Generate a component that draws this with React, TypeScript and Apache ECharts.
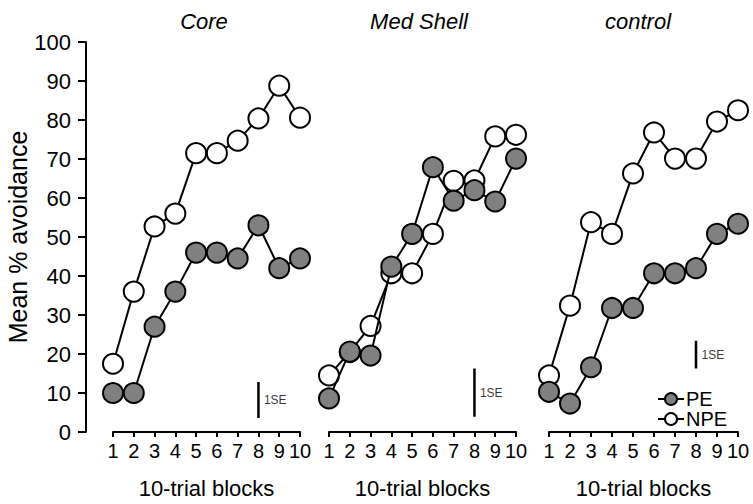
import React, { useEffect, useRef } from "react";
import * as echarts from "echarts";

const blocks = [1, 2, 3, 4, 5, 6, 7, 8, 9, 10];
const panelTitles = ["Core", "Med Shell", "control"];
const corePE = [10, 10, 27, 36, 46, 46, 44.5, 53, 42, 44.5];
const coreNPE = [17.5, 36, 52.7, 56, 71.5, 71.5, 74.7, 80.4, 88.8, 80.6];
const shellPE = [8.6, 20.6, 19.6, 42.4, 50.8, 67.9, 59.3, 62, 59.1, 70.1];
const shellNPE = [14.5, 20.5, 27.2, 40.7, 40.7, 50.8, 64.4, 64.5, 75.8, 76.2];
const controlPE = [10.3, 7.3, 16.6, 31.8, 31.8, 40.7, 40.7, 42, 50.8, 53.4];
const controlNPE = [14.5, 32.4, 53.8, 50.8, 66.3, 76.8, 70.1, 70.1, 79.6, 82.5];
const seBlock = [8, 8, 8];
const seLow = [3.6, 3.9, 16.3];
const seHigh = [12.8, 16.3, 23.4];
const yTicks = [0, 100, 10];

const FONT = "'Liberation Sans', Arial, Helvetica, sans-serif";

export default function App() {
  const ref = useRef<HTMLDivElement>(null);
  useEffect(() => {
    if (!ref.current) return;
    const chart = echarts.init(ref.current, null, { renderer: "svg" });
    const peSets = [corePE, shellPE, controlPE];
    const npeSets = [coreNPE, shellNPE, controlNPE];
    const grids = [
      { left: 113, width: 187, top: 42, height: 395 },
      { left: 329, width: 187, top: 42, height: 395 },
      { left: 549, width: 189, top: 42, height: 395 },
    ];
    const titleX = [204, 419, 638];
    const xAxes = grids.map((g, i) => ({
      type: "value",
      gridIndex: i,
      min: blocks[0],
      max: blocks[blocks.length - 1],
      interval: 1,
      axisLine: { show: true, onZero: false, lineStyle: { color: "#000", width: 2 } },
      axisTick: { show: true, length: 5, lineStyle: { color: "#000", width: 2 } },
      axisLabel: { fontSize: 20, color: "#000", margin: 9, fontFamily: FONT },
      splitLine: { show: false },
      name: "10-trial blocks",
      nameLocation: "middle",
      nameGap: 45,
      nameTextStyle: { fontSize: 22, color: "#000", fontFamily: FONT },
    }));
    const yAxes = grids.map((g, i) => ({
      type: "value",
      gridIndex: i,
      min: yTicks[0],
      max: yTicks[1],
      interval: yTicks[2],
      show: i === 0,
      offset: 27,
      axisLine: { show: true, lineStyle: { color: "#000", width: 2 } },
      axisTick: { show: true, length: 8, lineStyle: { color: "#000", width: 2 } },
      axisLabel: { fontSize: 22, color: "#000", margin: 15, fontFamily: FONT },
      splitLine: { show: false },
      name: i === 0 ? "Mean % avoidance" : "",
      nameLocation: "middle",
      nameRotate: 90,
      nameGap: 45,
      nameTextStyle: { fontSize: 25, color: "#000", fontFamily: FONT },
    }));
    const series: any[] = [];
    for (let i = 0; i < 3; i++) {
      series.push({
        name: "NPE",
        type: "line",
        xAxisIndex: i,
        yAxisIndex: i,
        data: blocks.map((b, k) => [b, npeSets[i][k]]),
        symbol: "circle",
        symbolSize: 20,
        itemStyle: { color: "#fff", borderColor: "#000", borderWidth: 2 },
        lineStyle: { color: "#000", width: 2 },
        z: 2,
      });
      series.push({
        name: "PE",
        type: "line",
        xAxisIndex: i,
        yAxisIndex: i,
        data: blocks.map((b, k) => [b, peSets[i][k]]),
        symbol: "circle",
        symbolSize: 20,
        itemStyle: { color: "#808080", borderColor: "#000", borderWidth: 2 },
        lineStyle: { color: "#000", width: 2 },
        z: 3,
      });
      series.push({
        name: "SE" + i,
        type: "line",
        xAxisIndex: i,
        yAxisIndex: i,
        data: [
          [seBlock[i], seLow[i]],
          [seBlock[i], seHigh[i]],
        ],
        symbol: "none",
        lineStyle: { color: "#000", width: 2.5 },
        silent: true,
        z: 4,
      });
      series.push({
        name: "SElabel" + i,
        type: "scatter",
        xAxisIndex: i,
        yAxisIndex: i,
        data: [[seBlock[i], (seLow[i] + seHigh[i]) / 2]],
        symbolSize: 1,
        itemStyle: { color: "rgba(0,0,0,0)" },
        label: {
          show: true,
          position: "right",
          distance: 5,
          formatter: "1SE",
          fontSize: 12,
          color: "#000",
          fontFamily: FONT,
        },
        silent: true,
      });
    }
    chart.setOption({
      animation: false,
      backgroundColor: "#fff",
      grid: grids,
      xAxis: xAxes,
      yAxis: yAxes,
      legend: {
        data: ["PE", "NPE"],
        orient: "vertical",
        left: 657,
        top: 389,
        itemWidth: 26,
        itemHeight: 15,
        itemGap: 0,
        padding: 0,
        textStyle: { fontSize: 20, color: "#000", fontFamily: FONT, padding: [0, 0, 0, -3], lineHeight: 18 },
      },
      graphic: panelTitles.map((t, i) => ({
        type: "text",
        x: titleX[i],
        y: 10,
        style: {
          text: t,
          fontSize: 22,
          fontStyle: "italic",
          fontFamily: FONT,
          fill: "#000",
          textAlign: "center",
          textVerticalAlign: "top",
        },
      })),
      series,
    });
    return () => chart.dispose();
  }, []);
  return (
    <div
      ref={ref}
      style={{ position: "fixed", left: 0, top: 0, width: 753, height: 504, background: "#fff" }}
    />
  );
}
